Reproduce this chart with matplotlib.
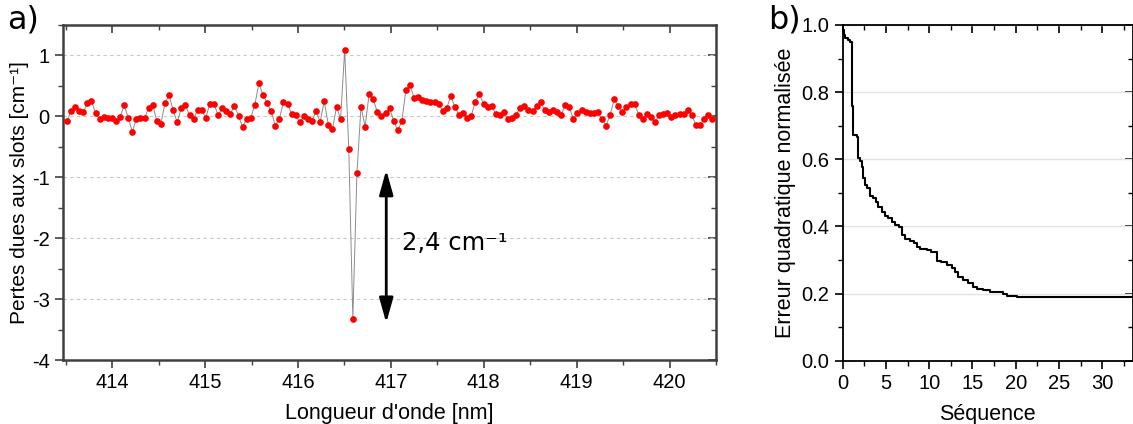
import numpy as np
import matplotlib.pyplot as plt
from matplotlib.ticker import MultipleLocator

plt.rcParams['font.family'] = ['Liberation Sans', 'DejaVu Sans']
plt.rcParams['axes.unicode_minus'] = False

# a) pertes dues aux slots
wl_start, wl_end = 413.513, 420.459
losses = [-0.08, 0.09, 0.16, 0.08, 0.07, 0.22, 0.25, 0.05, -0.05, -0.01,
          -0.02, -0.02, -0.08, -0.01, 0.18, -0.02, -0.25, -0.04, -0.03, -0.03,
          0.14, 0.19, -0.08, -0.12, 0.22, 0.35, 0.10, -0.10, 0.14, 0.18,
          0.02, -0.04, 0.10, 0.10, -0.02, 0.21, 0.20, 0.02, 0.13, 0.08,
          0.04, 0.17, 0.01, -0.17, -0.04, -0.03, 0.19, 0.54, 0.35, 0.22,
          0.08, -0.15, -0.04, 0.23, 0.21, 0.04, 0.02, -0.10, 0.00, -0.04,
          -0.07, 0.08, -0.09, 0.25, -0.14, -0.21, 0.15, -0.04,
          1.09, -0.53, -3.32, -0.93, 0.16, -0.17, 0.37, 0.28, 0.07, 0.01,
          0.05, 0.13, -0.07, -0.23, -0.08, 0.44, 0.52, 0.30, 0.31, 0.27,
          0.25, 0.23, 0.23, 0.21, 0.09, 0.14, 0.33, 0.15, 0.03, 0.05,
          -0.03, 0.01, 0.24, 0.36, 0.21, 0.16, 0.17, 0.04, 0.03, 0.07,
          -0.05, -0.02, 0.03, 0.14,
          0.17, 0.10, 0.09, 0.17, 0.23, 0.10, 0.07, 0.11, 0.07, 0.02,
          0.18, 0.15, -0.05, 0.06, 0.11, 0.07, 0.06, 0.06, 0.07, -0.05,
          -0.15, 0.02, 0.28, 0.17, 0.07, 0.16, 0.20, 0.20, 0.03, -0.05,
          0.04, -0.01, -0.09, 0.02, 0.04, 0.05, -0.01, 0.02, 0.04, 0.04,
          0.11, 0.02, -0.14, -0.14, -0.05, 0.02, -0.05]
wavelength = np.linspace(wl_start, wl_end, len(losses))
arrow_x = 416.95
arrow_y = (-0.88, -3.39)

# b) erreur quadratique normalisee (marches)
seq = [0.0, 0.05, 0.15, 0.25, 0.6, 0.9, 1.05, 1.12, 1.2, 1.65,
       1.72, 2.05, 2.2, 2.4, 2.6, 2.85, 3.15, 3.55, 3.85, 4.1,
       4.5, 4.9, 5.25, 5.65, 6.05, 6.55, 6.8, 7.2, 7.75, 8.25,
       8.6, 8.9, 9.7, 10.25, 10.95, 11.4, 12.0, 12.6, 13.0, 13.35,
       13.9, 14.5, 15.1, 15.5, 16.2, 17.0, 18.0, 18.5, 19.0, 20.2, 34.0]
err = [1.0, 0.985, 0.97, 0.962, 0.955, 0.948, 0.85, 0.76, 0.672, 0.665,
       0.603, 0.595, 0.578, 0.543, 0.523, 0.515, 0.49, 0.485, 0.474, 0.459,
       0.444, 0.432, 0.426, 0.414, 0.404, 0.399, 0.374, 0.364, 0.357, 0.35,
       0.34, 0.333, 0.33, 0.325, 0.297, 0.293, 0.285, 0.275, 0.265, 0.25,
       0.24, 0.23, 0.22, 0.213, 0.21, 0.205, 0.204, 0.20, 0.194, 0.19, 0.19]


def mirror_ticks(ax, xmaj, xmin, ymaj, ymin, color):
	# ticks on top / right pointing inwards, no labels
	top = ax.secondary_xaxis('top')
	top.xaxis.set_major_locator(MultipleLocator(xmaj))
	top.xaxis.set_minor_locator(MultipleLocator(xmin))
	top.tick_params(which='both', direction='in', labeltop=False, color=color)
	top.tick_params(which='major', length=6, width=1.2)
	top.tick_params(which='minor', length=3.5, width=1.0)
	right = ax.secondary_yaxis('right')
	right.yaxis.set_major_locator(MultipleLocator(ymaj))
	right.yaxis.set_minor_locator(MultipleLocator(ymin))
	right.tick_params(which='both', direction='in', labelright=False, color=color)
	right.tick_params(which='major', length=6, width=1.2)
	right.tick_params(which='minor', length=3.5, width=1.0)
	top.spines['top'].set_visible(False)
	right.spines['right'].set_visible(False)


fig = plt.figure(figsize=(11.33, 4.24), dpi=100)

# ---- panel a
ax = fig.add_axes([63/1133, 1-360/424, (716-63)/1133, (360-25)/424])
ax.plot(wavelength, losses, color='#8c8c8c', lw=0.7, zorder=2)
ax.plot(wavelength, losses, 'o', color='#ff0000', ms=4.8, mec='none', zorder=3)
ax.set_xlim(413.47, 420.5)
ax.set_ylim(-4, 1.5)
ax.xaxis.set_major_locator(MultipleLocator(1))
ax.xaxis.set_minor_locator(MultipleLocator(0.5))
ax.yaxis.set_major_locator(MultipleLocator(1))
ax.yaxis.set_minor_locator(MultipleLocator(0.5))
ax.yaxis.grid(True, which='major', ls=(0, (3, 3)), color='#c8c8c8', lw=0.8)
c = '#404040'
for s in ax.spines.values():
	s.set_color(c)
	s.set_linewidth(1.8)
ax.tick_params(which='both', direction='out', color=c, labelsize=14.5)
ax.tick_params(which='major', length=6, width=1.2)
ax.tick_params(which='minor', length=3.5, width=1.0)
mirror_ticks(ax, 1, 0.5, 1, 0.5, c)
ax.set_xlabel("Longueur d'onde [nm]", fontsize=15.5, labelpad=8)
ax.set_ylabel("Pertes dues aux slots [cm⁻¹]", fontsize=15, labelpad=2)
ax.annotate('', xy=(arrow_x, arrow_y[0]), xytext=(arrow_x, arrow_y[1]),
			arrowprops=dict(arrowstyle='<|-|>,head_length=1.5,head_width=0.42',
							color='black', lw=2, shrinkA=0, shrinkB=0))
ax.text(417.12, -2.08, '2,4 cm⁻¹', fontsize=17.5, va='center',
		family='DejaVu Sans')

# ---- panel b
bx = fig.add_axes([842.7/1133, 1-360.7/424, (1132.5-842.7)/1133, (360.7-25)/424])
bx.plot(seq, err, drawstyle='steps-post', color='black', lw=1.5)
bx.set_xlim(0, 33.5)
bx.set_ylim(0, 1.0)
bx.xaxis.set_major_locator(MultipleLocator(5))
bx.xaxis.set_minor_locator(MultipleLocator(2.5))
bx.yaxis.set_minor_locator(MultipleLocator(0.1))
bx.set_yticks([0.0, 0.2, 0.4, 0.6, 0.8, 1.0])
bx.set_yticklabels(['0.0', '0.2', '0.4', '0.6', '0.8', '1.0'])
bx.yaxis.grid(True, which='major', color='#e2e2e2', lw=1.0)
for s in bx.spines.values():
	s.set_color('black')
	s.set_linewidth(1.3)
bx.tick_params(which='both', direction='out', color='black', labelsize=14.5)
bx.tick_params(which='major', length=6, width=1.2)
bx.tick_params(which='minor', length=3.5, width=1.0)
mirror_ticks(bx, 5, 2.5, 0.2, 0.1, 'black')
bx.set_xlabel('Séquence', fontsize=15.5, labelpad=8)
bx.set_ylabel('Erreur quadratique normalisée', fontsize=15.5, labelpad=4)

fig.text(0.006, 0.99, 'a)', fontsize=23, va='top', family='DejaVu Sans')
fig.text(768/1133, 0.99, 'b)', fontsize=23, va='top', family='DejaVu Sans')

fig.savefig('out.png', dpi=100)
